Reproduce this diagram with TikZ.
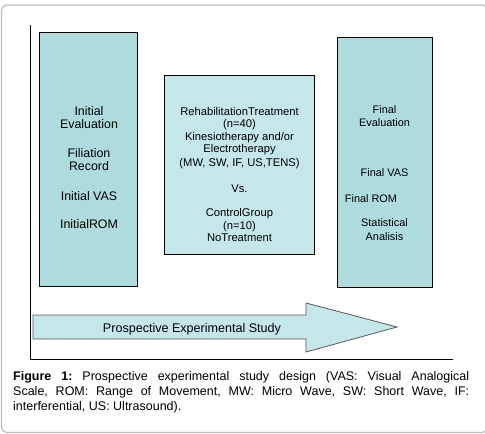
\documentclass[tikz,border=0pt]{standalone}
\usepackage{fontspec}
\setmainfont{Liberation Sans}
\definecolor{boxdark}{HTML}{AEDCDE}
\definecolor{boxlight}{HTML}{C5E7EA}
\definecolor{framegray}{HTML}{BDBDBD}
\begin{document}
\begin{tikzpicture}[x=1pt,y=-1pt,
  panel/.style={draw=black,line width=0.9pt,inner sep=0pt},
  tA/.style={anchor=base,inner sep=0pt,font=\fontsize{12.4}{14}\selectfont},
  tB/.style={anchor=base,inner sep=0pt,font=\fontsize{11.2}{13}\selectfont},
  tC/.style={anchor=base,inner sep=0pt,font=\fontsize{10.9}{13}\selectfont}]
\useasboundingbox (0,0) rectangle (485,434);
% outer frame
\draw[framegray,line width=1.2pt,rounded corners=6pt] (1.5,5) rectangle (487.5,432.5);
% axes
\coordinate (axtop) at (30,25);
\coordinate (axorig) at (30,359);
\coordinate (axend) at (453,359);
\draw[black,line width=0.9pt] (axtop) -- (axorig) -- (axend);
% boxes
\node[panel,fill=boxdark,minimum width=98pt,minimum height=254pt] (b1) at (88,159) {};
\node[panel,fill=boxlight,minimum width=150pt,minimum height=179pt] (b2) at (239,164.5) {};
\node[panel,fill=boxdark,minimum width=95pt,minimum height=250pt] (b3) at (384.5,162) {};
% box 1 text
\node[tA] (t11) at (89,115) {Initial};
\node[tA] (t12) at (89,128.5) {Evaluation};
\node[tA] (t13) at (89,157.3) {Filiation};
\node[tA] (t14) at (89,170.7) {Record};
\node[tA] (t15) at (89,200) {Initial VAS};
\node[tA] (t16) at (89,228.7) {InitialROM};
% box 2 text
\node[tB] (t21) at (239.5,115) {RehabilitationTreatment};
\node[tB] (t22) at (239.5,127.5) {(n=40)};
\node[tB] (t23) at (239.5,140) {Kinesiotherapy and/or};
\node[tB] (t24) at (239.5,152.7) {Electrotherapy};
\node[tB] (t25) at (239.5,166.7) {(MW, SW, IF, US,TENS)};
\node[tB] (t26) at (239.5,192.3) {Vs.};
\node[tB] (t27) at (239.5,216.7) {ControlGroup};
\node[tB] (t28) at (239.5,229.3) {(n=10)};
\node[tB] (t29) at (239.5,241.7) {NoTreatment};
% box 3 text
\node[tC] (t31) at (384.5,113.3) {Final};
\node[tC] (t32) at (384.5,126) {Evaluation};
\node[tC] (t33) at (384.5,176.7) {Final VAS};
\node[tC] (t34) at (371,202.3) {Final ROM};
\node[tC] (t35) at (384.5,226.7) {Statistical};
\node[tC] (t36) at (384.5,240) {Analisis};
% big arrow
\draw[draw=black!65,line width=0.8pt,fill=boxlight]
  (33,315) -- (306,315) -- (306,303) -- (397,327) -- (306,352) -- (306,339) -- (33,339) -- cycle;
\node[anchor=base,inner sep=0pt,font=\fontsize{12.56}{14}\selectfont] (arr) at (192,332.3) {Prospective Experimental Study};
% caption
\node[anchor=north west,inner sep=0pt,text width=456pt,align=justify,
  font=\fontsize{12.5}{15}\selectfont] (cap) at (13,370.8)
  {\frenchspacing\hyphenpenalty=10000\textbf{Figure 1:} Prospective experimental study design (VAS: Visual Analogical\linebreak
   Scale, ROM: Range of Movement, MW: Micro Wave, SW: Short Wave, IF:\linebreak
   interferential, US: Ultrasound).};
\end{tikzpicture}
\end{document}
